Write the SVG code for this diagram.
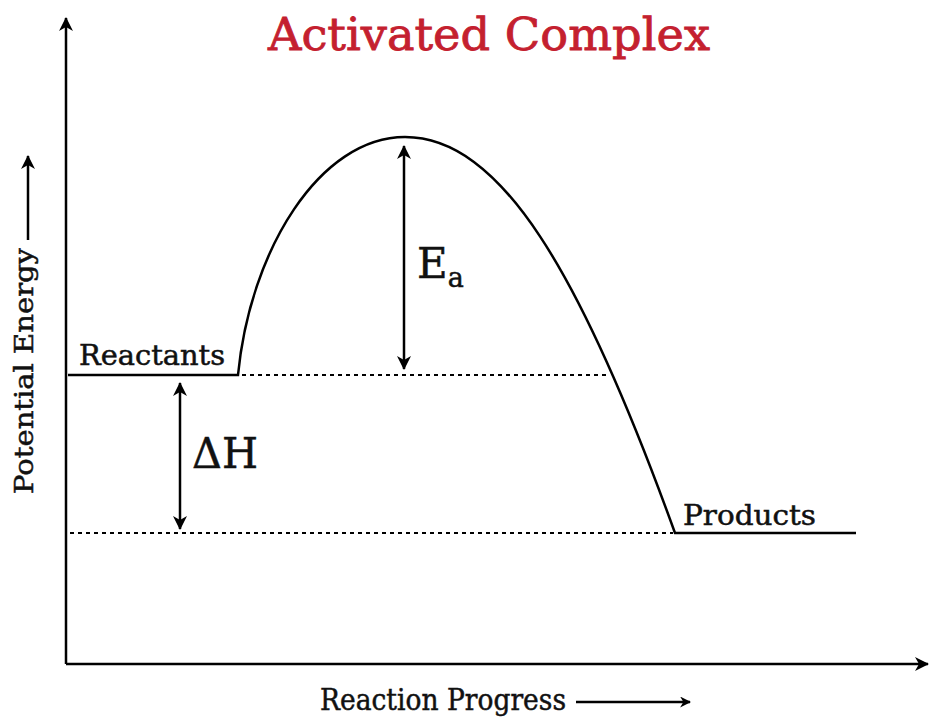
<svg xmlns="http://www.w3.org/2000/svg" width="931" height="717" viewBox="0 0 931 717">
<defs>
<marker id="ah" viewBox="0 0 10 10" refX="9" refY="5" markerWidth="11" markerHeight="11" markerUnits="userSpaceOnUse" orient="auto-start-reverse">
<path d="M0,0 L10,5 L0,10 L3,5 Z" fill="#000"/>
</marker>
<marker id="ah2" viewBox="0 0 14 14" refX="13" refY="7" markerWidth="14" markerHeight="14" markerUnits="userSpaceOnUse" orient="auto-start-reverse">
<path d="M0,0 L14,7 L0,14 L4,7 Z" fill="#000"/>
</marker>
</defs>
<style>
.t{font-family:"DejaVu Serif","Liberation Serif",serif;fill:#111;stroke:#111;stroke-width:0.5}
.ln{stroke:#000;stroke-width:2.5;fill:none}
.dot{stroke:#000;stroke-width:2;stroke-dasharray:4,4;fill:none}
</style>
<rect width="931" height="717" fill="#fff"/>
<text class="t" x="268" y="50" font-size="45" textLength="442" lengthAdjust="spacingAndGlyphs" style="fill:#C4202F;stroke:#C4202F;stroke-width:0.8">Activated Complex</text>
<g id="axes">
<path class="ln" d="M66,664 V18" marker-end="url(#ah2)"/>
<path class="ln" d="M66,664 H928" marker-end="url(#ah2)"/>
<path class="ln" d="M28,240 V156" stroke-width="2" marker-end="url(#ah2)"/>
<text class="t" transform="translate(33,494) rotate(-90)" font-size="26" textLength="246" lengthAdjust="spacingAndGlyphs">Potential Energy</text>
<path class="ln" d="M576,702 H690" stroke-width="2" marker-end="url(#ah)"/>
<text class="t" x="320" y="710" font-size="29" textLength="246" lengthAdjust="spacingAndGlyphs">Reaction Progress</text>
</g>
<g id="curve">
<path class="ln" d="M68,375 H238 C250,250 320,137 405,137 C500,137 580,270 675,533 H856"/>
<path class="dot" d="M242,375 H610"/>
<path class="dot" d="M70,533 H673"/>
</g>
<g id="reactants"><text class="t" x="79" y="365" font-size="27" textLength="146" lengthAdjust="spacingAndGlyphs">Reactants</text></g>
<g id="products"><text class="t" x="683" y="525" font-size="27" textLength="133" lengthAdjust="spacingAndGlyphs">Products</text></g>
<g id="connectors">
<path class="ln" d="M180,383 V529" stroke-width="2" marker-start="url(#ah2)" marker-end="url(#ah2)"/>
<path class="ln" d="M404,146 V369" stroke-width="2" marker-start="url(#ah2)" marker-end="url(#ah2)"/>
</g>
<g id="dH"><text class="t" x="192" y="468" font-size="42" textLength="66" lengthAdjust="spacingAndGlyphs">ΔH</text></g>
<g id="Ea"><text class="t" x="417" y="278" font-size="42">E<tspan font-size="27" dy="9">a</tspan></text></g>
</svg>
